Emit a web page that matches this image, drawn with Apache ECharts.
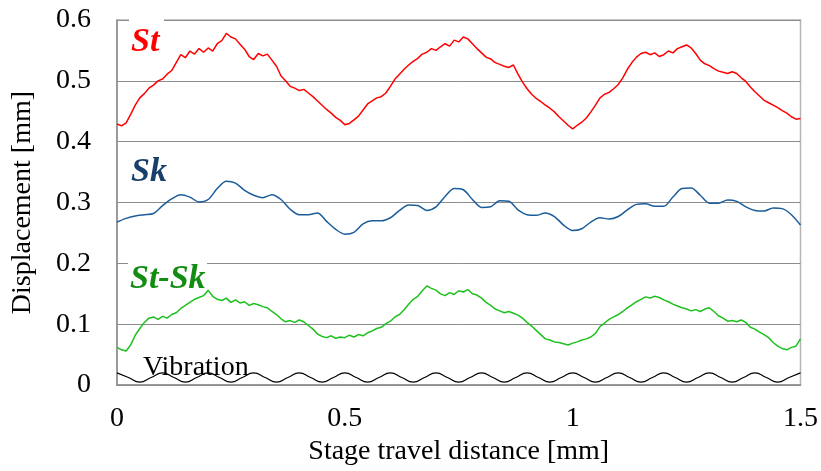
<!DOCTYPE html>
<html><head><meta charset="utf-8">
<script src="https://cdn.jsdelivr.net/npm/echarts@6/dist/echarts.min.js"></script>
<style>html,body{margin:0;padding:0;background:#fff}#c{width:821px;height:471px}</style>
</head><body><div id="c"></div>
<script>
// x ticks and y ticks
const xTicks = [0, 0.5, 1, 1.5];
const yTicks = [0, 0.1, 0.2, 0.3, 0.4, 0.5, 0.6];
const seriesNames = ['St', 'Sk', 'St-Sk', 'Vibration'];

// St, sampled every 0.01 mm
const stStep = 0.01;
const St = [
0.429,0.426,0.431,0.445,0.460,0.472,0.479,0.488,0.493,0.500,
0.503,0.511,0.517,0.530,0.543,0.538,0.549,0.544,0.553,0.547,
0.554,0.549,0.561,0.566,0.578,0.572,0.569,0.560,0.552,0.540,
0.535,0.545,0.541,0.544,0.534,0.524,0.508,0.500,0.491,0.488,
0.484,0.486,0.480,0.474,0.467,0.460,0.453,0.447,0.440,0.435,
0.428,0.430,0.436,0.442,0.452,0.462,0.467,0.472,0.474,0.480,
0.491,0.503,0.511,0.519,0.526,0.532,0.537,0.544,0.547,0.553,
0.550,0.556,0.561,0.557,0.567,0.564,0.572,0.569,0.561,0.553,
0.546,0.539,0.536,0.530,0.527,0.524,0.522,0.526,0.511,0.498,
0.487,0.478,0.471,0.466,0.460,0.455,0.449,0.441,0.434,0.427,
0.421,0.427,0.432,0.439,0.449,0.460,0.472,0.478,0.481,0.487,
0.494,0.505,0.519,0.530,0.539,0.545,0.547,0.543,0.546,0.540,
0.543,0.549,0.546,0.553,0.556,0.559,0.554,0.545,0.534,0.528,
0.525,0.520,0.516,0.514,0.512,0.515,0.512,0.505,0.499,0.490,
0.482,0.475,0.468,0.464,0.460,0.456,0.451,0.447,0.441,0.437,
0.438];

// Sk, sampled every 0.02 mm
const skStep = 0.02;
const Sk = [
0.268,0.274,0.278,0.280,0.282,0.295,0.306,0.313,0.309,0.301,
0.305,0.323,0.335,0.332,0.320,0.312,0.308,0.313,0.305,0.289,
0.280,0.280,0.283,0.269,0.256,0.248,0.251,0.265,0.270,0.270,
0.275,0.287,0.296,0.295,0.287,0.293,0.310,0.323,0.321,0.305,
0.292,0.293,0.303,0.302,0.288,0.280,0.279,0.283,0.277,0.263,
0.254,0.257,0.268,0.275,0.273,0.277,0.288,0.297,0.298,0.294,
0.294,0.309,0.323,0.324,0.312,0.299,0.299,0.304,0.302,0.293,
0.287,0.286,0.291,0.290,0.280,0.263];

// St-Sk, sampled every 0.01 mm
const stskStep = 0.01;
const StSk = [
0.062,0.058,0.056,0.066,0.082,0.093,0.103,0.110,0.112,0.108,
0.113,0.110,0.116,0.119,0.126,0.131,0.136,0.141,0.144,0.147,
0.156,0.146,0.141,0.139,0.143,0.136,0.140,0.135,0.137,0.131,
0.134,0.132,0.129,0.127,0.121,0.116,0.109,0.104,0.106,0.103,
0.107,0.104,0.098,0.092,0.084,0.080,0.078,0.081,0.077,0.079,
0.078,0.082,0.079,0.083,0.081,0.086,0.089,0.093,0.095,0.101,
0.105,0.112,0.116,0.124,0.133,0.141,0.146,0.155,0.163,0.159,
0.156,0.150,0.147,0.152,0.149,0.155,0.153,0.157,0.150,0.148,
0.143,0.136,0.131,0.125,0.122,0.119,0.121,0.118,0.115,0.110,
0.103,0.097,0.090,0.083,0.076,0.074,0.071,0.070,0.068,0.066,
0.069,0.071,0.074,0.076,0.079,0.085,0.096,0.102,0.108,0.112,
0.116,0.121,0.127,0.132,0.137,0.141,0.145,0.143,0.146,0.144,
0.140,0.137,0.133,0.130,0.127,0.125,0.122,0.124,0.121,0.125,
0.127,0.121,0.114,0.110,0.105,0.106,0.104,0.107,0.103,0.095,
0.092,0.087,0.083,0.078,0.070,0.064,0.060,0.058,0.062,0.064,
0.076];

// Vibration, sampled every 0.025 mm
const vibStep = 0.025;
const Vibration = [
0.020,0.0125,0.005,0.0125,0.020,0.0125,0.005,0.0125,0.020,0.0125,0.005,0.0125,0.020,0.0125,0.005,0.0125,0.020,0.0125,0.005,0.0125,
0.020,0.0125,0.005,0.0125,0.020,0.0125,0.005,0.0125,0.020,0.0125,0.005,0.0125,0.020,0.0125,0.005,0.0125,0.020,0.0125,0.005,0.0125,
0.020,0.0125,0.005,0.0125,0.020,0.0125,0.005,0.0125,0.020,0.0125,0.005,0.0125,0.020,0.0125,0.005,0.0125,0.020,0.0125,0.005,0.0125,
0.020];

function pairs(arr, step) { return arr.map((v, i) => [Math.round(i * step * 10000) / 10000, v]); }

const SERIF = '"Liberation Serif","Times New Roman",serif';
const chart = echarts.init(document.getElementById('c'), null, {renderer: 'canvas'});
const gridColor = '#8c8c8c';

chart.setOption({
  animation: false,
  backgroundColor: '#fff',
  grid: {left: 117, right: 20, top: 20, bottom: 83, show: true, borderColor: '#b5b5b5', borderWidth: 1.5},
  xAxis: {
    type: 'value', min: xTicks[0], max: xTicks[xTicks.length - 1], interval: 0.5,
    name: 'Stage travel distance [mm]', nameLocation: 'middle', nameGap: 51,
    nameTextStyle: {fontFamily: SERIF, fontSize: 28, color: '#000'},
    axisLine: {show: true, lineStyle: {color: gridColor, width: 1.5}},
    axisTick: {show: false},
    splitLine: {show: false},
    axisLabel: {fontFamily: SERIF, fontSize: 28, color: '#000', margin: 20}
  },
  yAxis: {
    type: 'value', min: yTicks[0], max: yTicks[yTicks.length - 1], interval: 0.1,
    name: 'Displacement [mm]', nameLocation: 'middle', nameGap: 80,
    nameTextStyle: {fontFamily: SERIF, fontSize: 28, color: '#000'},
    axisLine: {show: true, lineStyle: {color: gridColor, width: 1.5}},
    axisTick: {show: false},
    splitLine: {show: true, lineStyle: {color: gridColor, width: 1}},
    axisLabel: {fontFamily: SERIF, fontSize: 28, color: '#000', margin: 26}
  },
  graphic: [
    {type: 'rect', z: 1, shape: {x: 129, y: 17, width: 35, height: 40}, style: {fill: '#fff'}},
    {type: 'rect', z: 1, shape: {x: 128, y: 261, width: 79, height: 10}, style: {fill: '#fff'}},
    {type: 'text', z: 10, style: {x: 131, y: 42, text: seriesNames[0], font: 'italic bold 34px ' + SERIF, fill: '#ff0000', verticalAlign: 'middle'}},
    {type: 'text', z: 10, style: {x: 131, y: 172, text: seriesNames[1], font: 'italic bold 34px ' + SERIF, fill: '#17406a', verticalAlign: 'middle'}},
    {type: 'text', z: 10, style: {x: 130, y: 279, text: seriesNames[2], font: 'italic bold 34px ' + SERIF, fill: '#128c12', verticalAlign: 'middle'}},
    {type: 'text', z: 10, style: {x: 143, y: 368, text: seriesNames[3], font: '28px ' + SERIF, fill: '#000', verticalAlign: 'middle'}}
  ],
  series: [
    {name: seriesNames[0], type: 'line', data: pairs(St, stStep), showSymbol: false, lineStyle: {color: '#ff0000', width: 1.5}, z: 3},
    {name: seriesNames[1], type: 'line', data: pairs(Sk, skStep), showSymbol: false, smooth: 0.3, lineStyle: {color: '#1c5d9a', width: 1.5}, z: 3},
    {name: seriesNames[2], type: 'line', data: pairs(StSk, stskStep), showSymbol: false, lineStyle: {color: '#1ec01e', width: 1.5}, z: 3},
    {name: seriesNames[3], type: 'line', data: pairs(Vibration, vibStep), showSymbol: false, smooth: 0.5, lineStyle: {color: '#000', width: 1.2}, z: 3}
  ]
});
</script></body></html>
